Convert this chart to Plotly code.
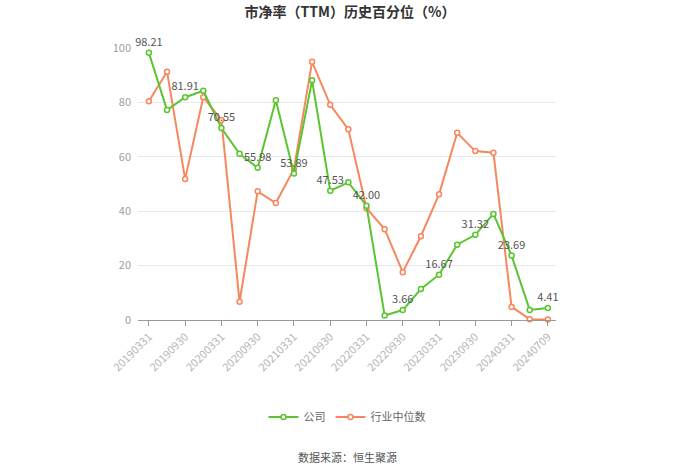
import plotly.graph_objects as go

dates = ["20190331", "20190630", "20190930", "20191231", "20200331", "20200630",
         "20200930", "20201231", "20210331", "20210630", "20210930", "20211231",
         "20220331", "20220630", "20220930", "20221231", "20230331", "20230630",
         "20230930", "20231231", "20240331", "20240630", "20240709"]
company = [98.21, 77.2, 81.91, 84.3, 70.55, 61.1, 55.98, 80.8, 53.89, 88.1, 47.53, 50.6,
           42.00, 1.7, 3.66, 11.4, 16.67, 27.7, 31.32, 39.0, 23.69, 3.7, 4.41]
industry = [80.4, 91.3, 51.8, 81.9, 73.5, 6.7, 47.3, 43.0, 55.5, 94.9, 79.1, 70.1,
            41.1, 33.4, 17.6, 30.8, 46.2, 68.8, 62.1, 61.5, 4.8, 0.3, 0.2]
label_idx = list(range(0, len(dates), 2))
tick_labels = [dates[i] for i in label_idx]
y_ticks = [0, 20, 40, 60, 80, 100]

GREEN = "#5ac530"
ORANGE = "#f7875f"

company_text = [f"{v:.2f}" if i in label_idx else "" for i, v in enumerate(company)]

fig = go.Figure()
fig.add_trace(go.Scatter(
    x=dates, y=industry, name="行业中位数", mode="lines+markers",
    line=dict(color=ORANGE, width=2),
    marker=dict(symbol="circle", size=5, color="white", line=dict(color=ORANGE, width=1.5)),
    cliponaxis=False, legendrank=2,
))
fig.add_trace(go.Scatter(
    x=dates, y=company, name="公司", mode="lines+markers+text",
    line=dict(color=GREEN, width=2),
    marker=dict(symbol="circle", size=5, color="white", line=dict(color=GREEN, width=1.5)),
    text=company_text, textposition="top center",
    textfont=dict(size=11, color="#555555", family="Noto Sans CJK SC, sans-serif"),
    cliponaxis=False, legendrank=1,
))

fig.update_layout(
    width=700, height=474,
    margin=dict(l=138, r=144, t=48, b=154),
    paper_bgcolor="white", plot_bgcolor="white",
    font=dict(family="Noto Sans CJK SC, sans-serif", color="#666666"),
    title=dict(text="<b>市净率（TTM）历史百分位（%）</b>", x=0.5, xanchor="center",
               y=0.975, yanchor="middle",
               font=dict(size=14, color="#333333", family="Noto Sans CJK SC, sans-serif")),
    showlegend=True,
    legend=dict(orientation="h", x=0.5, xanchor="center", y=-0.357, yanchor="middle",
                font=dict(size=11, color="#666666"), itemwidth=30),
    xaxis=dict(type="category", categoryorder="array", categoryarray=dates,
               range=[-0.6, len(dates) - 1 + 0.45],
               tickmode="array", tickvals=tick_labels, ticktext=tick_labels,
               tickangle=-45, ticks="outside", ticklen=5, tickcolor="#999999",
               tickfont=dict(size=11, color="#b5b5b5"),
               showline=True, linecolor="#999999", linewidth=1,
               showgrid=False, zeroline=False),
    yaxis=dict(range=[0, 100], tickvals=y_ticks, showgrid=True, gridcolor="#e8e8e8",
               tickfont=dict(size=11, color="#a0a0a0"), zeroline=False,
               showline=False, ticks="", ticklabelstandoff=6),
)
fig.add_annotation(text="数据来源：恒生聚源", xref="paper", yref="paper",
                   x=0.5, y=-0.504, showarrow=False, xanchor="center", yanchor="middle",
                   font=dict(size=11, color="#555555"))

fig.write_html("out.html")
